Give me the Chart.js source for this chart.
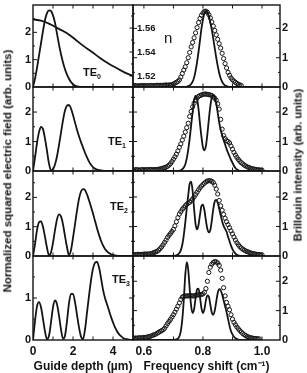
<!DOCTYPE html>
<html>
<head>
<meta charset="utf-8">
<title>Guided modes and Brillouin spectra</title>
<script src="https://cdn.jsdelivr.net/npm/chart.js@4.4.1/dist/chart.umd.min.js"></script>
<style>
  html, body { margin: 0; padding: 0; background: #fff; }
  #fig { position: relative; width: 307px; height: 373px; overflow: hidden;
         font-family: "Liberation Sans", Arial, sans-serif; font-weight: bold; color: #141414; }
  .pan { position: absolute; }
  .txt { position: absolute; white-space: nowrap; line-height: 1; z-index: 5; }
  .te { font-size: 11px; }
  .te sub { font-size: 7px; vertical-align: -3px; line-height: 0; }
  .vt { transform: translate(-50%, -50%) rotate(-90deg); }
</style>
</head>
<body>
<div id="fig">
  <div class="txt te" style="left:83px;top:67px">TE<sub>0</sub></div>
  <div class="txt te" style="left:108px;top:136px">TE<sub>1</sub></div>
  <div class="txt te" style="left:110px;top:201px">TE<sub>2</sub></div>
  <div class="txt te" style="left:112px;top:274px">TE<sub>3</sub></div>
  <div class="txt" style="left:164px;top:30px;font-size:15px;font-weight:normal">n</div>
  <div class="txt vt" style="left:7.5px;top:171px;font-size:11.5px">Normalized squared electric field (arb. units)</div>
  <div class="txt vt" style="left:298px;top:165px;font-size:11px">Brillouin intensity (arb. units)</div>
</div>
<script>
(function () {
  // ---- données ----
  var DEPTH = [0, 0.1, 0.2, 0.3, 0.4, 0.5, 0.6, 0.7, 0.8, 0.9,
    1, 1.1, 1.2, 1.3, 1.4, 1.5, 1.6, 1.7, 1.8, 1.9,
    2, 2.1, 2.2, 2.3, 2.4, 2.5, 2.6, 2.7, 2.8, 2.9,
    3, 3.1, 3.2, 3.3, 3.4, 3.5, 3.6, 3.7, 3.8, 3.9,
    4, 4.1, 4.2, 4.3, 4.4, 4.5, 4.6, 4.7, 4.8, 4.9, 5];

  var TE0 = [0, 0.3, 0.7, 1.15, 1.6, 2.05, 2.45, 2.7, 2.8, 2.78,
    2.62, 2.35, 1.95, 1.55, 1.2, 0.9, 0.65, 0.45, 0.3, 0.18,
    0.1, 0.05, 0.02, 0.01, 0, 0, 0, 0, 0, 0,
    0, 0, 0, 0, 0, 0, 0, 0, 0, 0,
    0, 0, 0, 0, 0, 0, 0, 0, 0, 0, 0];
  var TE1 = [0, 0.45, 0.95, 1.32, 1.5, 1.42, 1.1, 0.68, 0.25, 0.02,
    0.06, 0.22, 0.5, 0.88, 1.3, 1.72, 2.05, 2.22, 2.24, 2.12,
    1.9, 1.65, 1.4, 1.18, 0.98, 0.8, 0.62, 0.46, 0.32, 0.21,
    0.13, 0.08, 0.05, 0.03, 0.02, 0.01, 0, 0, 0, 0,
    0, 0, 0, 0, 0, 0, 0, 0, 0, 0, 0];
  var TE2 = [0, 0.4, 0.88, 1.15, 1.18, 1.0, 0.65, 0.28, 0.02, 0.12,
    0.45, 0.88, 1.25, 1.42, 1.35, 1.08, 0.68, 0.3, 0.03, 0.2,
    0.62, 1.08, 1.55, 1.95, 2.2, 2.28, 2.25, 2.1, 1.9, 1.68,
    1.45, 1.2, 0.95, 0.72, 0.52, 0.36, 0.24, 0.16, 0.1, 0.06,
    0.04, 0.02, 0.01, 0, 0, 0, 0, 0, 0, 0, 0];
  var TE3 = [0, 0.45, 0.8, 0.9, 0.78, 0.5, 0.2, 0.02, 0.1, 0.42,
    0.78, 0.94, 0.85, 0.58, 0.25, 0.03, 0.1, 0.45, 0.88, 1.1,
    1.1, 0.9, 0.6, 0.3, 0.08, 0.02, 0.25, 0.65, 1.05, 1.42,
    1.7, 1.84, 1.86, 1.73, 1.48, 1.2, 1.0, 0.85, 0.7, 0.55,
    0.42, 0.3, 0.21, 0.14, 0.09, 0.05, 0.03, 0.02, 0.01, 0, 0];

  // indice de réfraction (encart du premier panneau)
  var N_DEPTH = [0, 0.4, 0.85, 1.25, 1.7, 2.1, 2.5, 2.95, 3.35, 3.75, 4.2, 4.6, 5.0];
  var N_INDEX = [1.5672, 1.5661, 1.5633, 1.5597, 1.5556, 1.5506, 1.5453,
    1.5400, 1.5350, 1.5306, 1.5264, 1.5228, 1.5200];

  var FREQ = [0.56, 0.565, 0.57, 0.575, 0.58, 0.585, 0.59, 0.595, 0.6, 0.605,
    0.61, 0.615, 0.62, 0.625, 0.63, 0.635, 0.64, 0.645, 0.65, 0.655,
    0.66, 0.665, 0.67, 0.675, 0.68, 0.685, 0.69, 0.695, 0.7, 0.705,
    0.71, 0.715, 0.72, 0.725, 0.73, 0.735, 0.74, 0.745, 0.75, 0.755,
    0.76, 0.765, 0.77, 0.775, 0.78, 0.785, 0.79, 0.795, 0.8, 0.805,
    0.81, 0.815, 0.82, 0.825, 0.83, 0.835, 0.84, 0.845, 0.85, 0.855,
    0.86, 0.865, 0.87, 0.875, 0.88, 0.885, 0.89, 0.895, 0.9, 0.905,
    0.91, 0.915, 0.92, 0.925, 0.93, 0.935, 0.94, 0.945, 0.95, 0.955,
    0.96, 0.965, 0.97, 0.975, 0.98, 0.985, 0.99, 0.995, 1.0];

  // spectres mesurés (cercles) et calculés (trait)
  var EXP0 = [0.05, 0.04, 0.05, 0.04, 0.03, 0.05, 0.04, 0.05, 0.04, 0.05,
    0.04, 0.04, 0.05, 0.05, 0.04, 0.05, 0.05, 0.06, 0.05, 0.06,
    0.05, 0.06, 0.06, 0.07, 0.06, 0.07, 0.07, 0.08, 0.1, 0.13,
    0.16, 0.19, 0.24, 0.34, 0.46, 0.58, 0.69, 0.83, 1.0, 1.18,
    1.37, 1.52, 1.68, 1.85, 2.03, 2.2, 2.34, 2.45, 2.53, 2.58,
    2.59, 2.55, 2.47, 2.36, 2.22, 2.08, 1.93, 1.78, 1.63, 1.48,
    1.33, 1.15, 0.97, 0.8, 0.65, 0.5, 0.4, 0.31, 0.25, 0.2,
    0.16, 0.12, 0.09, 0.07, 0.05, null, null, null, null, null,
    null, null, null, null, null, null, null, null, null];
  var FIT0 = [0, 0, 0, 0, 0, 0, 0, 0, 0, 0,
    0, 0, 0, 0, 0, 0, 0, 0, 0, 0,
    0, 0, 0, 0, 0, 0, 0, 0, 0, 0,
    0, 0, 0, 0, 0, 0, 0, 0.01, 0.03, 0.05,
    0.1, 0.18, 0.32, 0.55, 0.85, 1.2, 1.6, 2.0, 2.3, 2.52,
    2.6, 2.55, 2.42, 2.2, 1.95, 1.65, 1.32, 1.0, 0.72, 0.48,
    0.3, 0.18, 0.1, 0.05, 0.03, 0.01, 0, 0, 0, 0,
    0, 0, 0, 0, 0, 0, 0, 0, 0, 0,
    0, 0, 0, 0, 0, 0, 0, 0, 0];

  var EXP1 = [0.04, 0.03, 0.04, 0.05, 0.04, 0.03, 0.04, 0.05, 0.04, 0.04,
    0.05, 0.04, 0.05, 0.05, 0.04, 0.05, 0.05, 0.05, 0.06, 0.07,
    0.08, 0.1, 0.11, 0.13, 0.16, 0.2, 0.25, 0.32, 0.4, 0.48,
    0.57, 0.68, 0.8, 0.92, 1.05, 1.18, 1.32, 1.47, 1.62, 1.85,
    2.02, 2.18, 2.3, 2.4, 2.48, 2.53, 2.56, 2.58, 2.6, 2.61,
    2.61, 2.6, 2.59, 2.58, 2.56, 2.52, 2.47, 2.4, 2.28, 2.1,
    1.75, 1.42, 1.2, 1.1, 1.03, 1.0, 0.95, 0.85, 0.74, 0.63,
    0.54, 0.46, 0.39, 0.33, 0.28, 0.24, 0.2, 0.17, 0.14, 0.12,
    0.1, 0.08, 0.07, 0.06, 0.05, 0.04, 0.04, 0.03, 0.03];
  var FIT1 = [0, 0, 0, 0, 0, 0, 0, 0, 0, 0,
    0, 0, 0, 0, 0, 0, 0, 0, 0, 0,
    0, 0, 0, 0, 0, 0, 0, 0, 0, 0,
    0, 0, 0.01, 0.02, 0.06, 0.12, 0.22, 0.42, 0.72, 1.1,
    1.55, 2.0, 2.4, 2.55, 2.45, 2.1, 1.6, 1.15, 0.8, 0.7,
    0.85, 1.25, 1.75, 2.2, 2.5, 2.58, 2.5, 2.3, 1.98, 1.65,
    1.4, 1.22, 1.05, 0.9, 0.75, 0.62, 0.5, 0.38, 0.28, 0.18,
    0.1, 0.05, 0.02, 0, 0, 0, 0, 0, 0, 0,
    0, 0, 0, 0, 0, 0, 0, 0, 0];

  var EXP2 = [0.04, 0.05, 0.04, 0.05, 0.06, 0.05, 0.05, 0.06, 0.06, 0.07,
    0.06, 0.07, 0.07, 0.08, 0.1, 0.12, 0.14, 0.16, 0.2, 0.25,
    0.31, 0.38, 0.46, 0.54, 0.63, 0.7, 0.76, 0.83, 0.9, 1.02,
    1.16, 1.3, 1.42, 1.5, 1.58, 1.64, 1.7, 1.75, 1.79, 1.82,
    1.87, 1.93, 2.0, 2.08, 2.16, 2.24, 2.31, 2.37, 2.42, 2.47,
    2.51, 2.54, 2.55, 2.55, 2.53, 2.49, 2.4, 2.27, 2.1, 1.88,
    1.7, 1.55, 1.41, 1.28, 1.16, 1.06, 0.96, 0.85, 0.75, 0.64,
    0.54, 0.45, 0.38, 0.32, 0.27, 0.23, 0.2, 0.17, 0.15, 0.13,
    0.11, 0.09, 0.08, 0.07, 0.06, 0.05, 0.05, 0.04, 0.04];
  var FIT2 = [0, 0, 0, 0, 0, 0, 0, 0, 0, 0,
    0, 0, 0, 0, 0, 0, 0, 0, 0, 0,
    0, 0, 0, 0, 0, 0, 0, 0, 0, 0.01,
    0.02, 0.05, 0.1, 0.2, 0.38, 0.7, 1.12, 1.6, 2.05, 2.45,
    2.52, 2.2, 1.6, 1.08, 0.9, 1.05, 1.4, 1.7, 1.74, 1.55,
    1.2, 0.92, 0.8, 0.88, 1.2, 1.6, 1.85, 1.9, 1.8, 1.6,
    1.38, 1.18, 1.02, 0.92, 0.82, 0.65, 0.5, 0.35, 0.23, 0.14,
    0.08, 0.04, 0.02, 0, 0, 0, 0, 0, 0, 0,
    0, 0, 0, 0, 0, 0, 0, 0, 0];

  var EXP3 = [0.06, 0.05, 0.07, 0.06, 0.07, 0.08, 0.07, 0.08, 0.09, 0.08,
    0.1, 0.11, 0.12, 0.14, 0.16, 0.18, 0.2, 0.23, 0.26, 0.29,
    0.32, 0.35, 0.4, 0.48, 0.56, 0.63, 0.7, 0.78, 0.86, 0.95,
    1.05, 1.15, 1.26, 1.38, 1.46, 1.49, 1.5, 1.5, 1.5, 1.51,
    1.51, 1.5, 1.5, 1.52, 1.53, 1.54, 1.54, 1.55, 1.57, 1.62,
    1.75, 2.0, 2.3, 2.48, 2.58, 2.64, 2.67, 2.66, 2.62, 2.54,
    2.38, 2.1, 1.78, 1.5, 1.28, 1.15, 1.03, 0.86, 0.71, 0.6,
    0.52, 0.44, 0.38, 0.32, 0.27, 0.22, 0.18, 0.15, 0.12, 0.1,
    0.08, 0.07, 0.06, 0.05, 0.05, 0.04, 0.04, null, null];
  var FIT3 = [0, 0, 0, 0, 0, 0, 0, 0, 0, 0,
    0, 0, 0, 0, 0, 0, 0, 0, 0, 0,
    0, 0, 0, 0, 0, 0, 0, 0, 0, 0.01,
    0.02, 0.05, 0.12, 0.3, 0.7, 1.35, 2.2, 2.65, 2.4, 1.75,
    1.15, 0.92, 1.05, 1.42, 1.72, 1.75, 1.45, 1.08, 0.92, 1.05,
    1.35, 1.52, 1.48, 1.2, 0.93, 0.86, 1.0, 1.3, 1.6, 1.73,
    1.7, 1.55, 1.35, 1.15, 0.95, 0.72, 0.48, 0.3, 0.19, 0.11,
    0.06, 0.03, 0.01, 0, 0, 0, 0, 0, 0, 0,
    0, 0, 0, 0, 0, 0, 0, 0, 0];

  // graduations
  var DEPTH_LABELS = [0, 2, 4];
  var FREQ_LABELS = [0.6, 0.8, 1.0];
  var Y_LABELS = [0, 1, 2];
  var N_LABELS = [1.52, 1.54, 1.56];
  var DEPTH_MARKS = [1, 2, 3, 4];
  var FREQ_MARKS = [0.6, 0.7, 0.8, 0.9, 1.0];
  var Y_MARKS = [0.5, 1, 1.5, 2, 2.5];
  var N_MARKS = [1.52, 1.53, 1.54, 1.55, 1.56, 1.57];

  var INK = "#141414";
  var FONT = '"Liberation Sans", Arial, sans-serif';
  var fig = document.getElementById("fig");
  var ROW_TOP = [5, 87, 171, 256];
  var ROW_BOT = [87, 171, 256, 340];
  var GAP = 6; // marge autour de la frontière commune x=133

  Chart.defaults.font.family = FONT;
  Chart.defaults.color = INK;

  // cadre + petites graduations vers l'intérieur (positions prises sur les échelles)
  var framePlugin = {
    id: "frame",
    afterDatasetsDraw: function (chart, args, o) {
      var a = chart.chartArea, ctx = chart.ctx;
      var sx = chart.scales.x, sy = chart.scales.y;
      ctx.save();
      ctx.strokeStyle = INK;
      ctx.lineWidth = 1.4;
      ctx.strokeRect(a.left, a.top, a.right - a.left, a.bottom - a.top);
      ctx.lineWidth = 1;
      ctx.beginPath();
      o.xMarks.forEach(function (v) {
        var p = sx.getPixelForValue(v);
        ctx.moveTo(p, a.bottom); ctx.lineTo(p, a.bottom - 3.5);
        ctx.moveTo(p, a.top); ctx.lineTo(p, a.top + 3.5);
      });
      Y_MARKS.forEach(function (v) {
        if (v >= sy.max - 0.05) { return; }
        var p = sy.getPixelForValue(v);
        var L = Number.isInteger(v) ? 4 : 2;
        ctx.moveTo(a.left, p); ctx.lineTo(a.left + L, p);
        if (!o.nAxis) { ctx.moveTo(a.right, p); ctx.lineTo(a.right - L, p); }
      });
      if (o.nAxis) {
        var sn = chart.scales.yn;
        N_MARKS.forEach(function (v) {
          var p = sn.getPixelForValue(v);
          var L = Math.round(v * 100) % 2 === 0 ? 3.5 : 2;
          ctx.moveTo(a.right, p); ctx.lineTo(a.right - L, p);
        });
      }
      ctx.stroke();
      ctx.restore();
    }
  };

  function lineSet(xs, ys, axis) {
    return {
      data: xs.map(function (x, i) { return { x: x, y: ys[i] }; }),
      yAxisID: axis || "y",
      showLine: true, borderColor: INK, borderWidth: 1.8,
      pointRadius: 0, cubicInterpolationMode: "monotone", fill: false
    };
  }

  function dotSet(xs, ys) {
    var pts = [];
    xs.forEach(function (x, i) { if (ys[i] != null) { pts.push({ x: x, y: ys[i] }); } });
    return {
      data: pts, showLine: false, borderColor: INK,
      pointRadius: 2.1, pointBorderWidth: 1, pointBorderColor: INK,
      pointBackgroundColor: "rgba(255,255,255,0)"
    };
  }

  function panel(o) {
    var padT = 10, padB = o.bottom ? 0 : 10;
    var top = ROW_TOP[o.row] - padT;
    var bot = o.bottom ? 373 : ROW_BOT[o.row] + padB;
    var wrap = document.createElement("div");
    wrap.className = "pan";
    wrap.style.left = o.left + "px";
    wrap.style.top = top + "px";
    wrap.style.width = o.width + "px";
    wrap.style.height = (bot - top) + "px";
    var canvas = document.createElement("canvas");
    wrap.appendChild(canvas);
    fig.appendChild(wrap);

    var scales = {
      x: {
        type: "linear", min: o.xMin, max: o.xMax, display: !!o.bottom,
        grid: { display: false, drawTicks: false }, border: { display: false },
        afterBuildTicks: function (s) { s.ticks = o.xLabels.map(function (v) { return { value: v }; }); },
        afterFit: function (s) { s.height = o.bottom ? 33 : 0; },
        ticks: { autoSkip: false, maxRotation: 0, padding: 4, color: INK,
                 font: { family: FONT, size: 12, weight: "bold" }, callback: o.xFmt },
        title: { display: true, text: o.xTitle, color: INK, padding: 0,
                 font: { family: FONT, size: 12, weight: "bold", lineHeight: 1 } }
      },
      y: {
        type: "linear", min: 0, max: o.yMax, position: o.side,
        grid: { display: false, drawTicks: false }, border: { display: false },
        afterBuildTicks: function (s) {
          s.ticks = Y_LABELS.filter(function (v) { return v < o.yMax - 0.2; })
            .map(function (v) { return { value: v }; });
        },
        afterFit: function (s) { s.width = o.yWidth; },
        ticks: { padding: 2, color: INK, font: { family: FONT, size: 11, weight: "bold" },
                 callback: function (v) { return String(v); } }
      }
    };
    if (o.nAxis) {
      scales.yn = {
        type: "linear", min: 1.5108, max: 1.5792, position: "right",
        grid: { display: false, drawTicks: false }, border: { display: false },
        afterBuildTicks: function (s) { s.ticks = N_LABELS.map(function (v) { return { value: v }; }); },
        afterFit: function (s) { s.width = 32; },
        ticks: { padding: 4, color: INK, font: { family: FONT, size: 9.5, weight: "bold" },
                 callback: function (v) { return v.toFixed(2); } }
      };
    }

    return new Chart(canvas, {
      type: "scatter",
      data: { datasets: o.datasets },
      plugins: [framePlugin],
      options: {
        responsive: true,
        maintainAspectRatio: false,
        animation: false,
        events: [],
        layout: { padding: { top: padT, bottom: padB, left: o.padL || 0, right: o.padR || 0 } },
        scales: scales,
        plugins: {
          legend: { display: false },
          tooltip: { enabled: false },
          frame: { xMarks: o.xMarks, nAxis: !!o.nAxis }
        }
      }
    });
  }

  var LEFT_MAX = [3.0, 2.85, 2.9, 2.0];
  var RIGHT_MAX = [2.8, 2.85, 2.88, 2.86];
  var MODES = [TE0, TE1, TE2, TE3];
  var EXPS = [EXP0, EXP1, EXP2, EXP3];
  var FITS = [FIT0, FIT1, FIT2, FIT3];

  MODES.forEach(function (mode, r) {
    var sets = [lineSet(DEPTH, mode)];
    if (r === 0) { sets.push(lineSet(N_DEPTH, N_INDEX, "yn")); }
    panel({
      row: r, bottom: r === 3, left: 0, width: r === 0 ? 165 : 133 + GAP,
      padR: r === 0 ? 0 : GAP,
      side: "left", yWidth: 33, yMax: LEFT_MAX[r], nAxis: r === 0,
      xMin: 0, xMax: 5, xLabels: DEPTH_LABELS, xMarks: DEPTH_MARKS,
      xFmt: function (v) { return String(v); },
      xTitle: "Guide depth (\u00B5m)",
      datasets: sets
    });
  });

  EXPS.forEach(function (exp, r) {
    panel({
      row: r, bottom: r === 3, left: 133 - GAP, width: 174 + GAP, padL: GAP,
      side: "right", yWidth: 27, yMax: RIGHT_MAX[r],
      xMin: 0.563, xMax: 1.061, xLabels: FREQ_LABELS, xMarks: FREQ_MARKS,
      xFmt: function (v) { return v.toFixed(1); },
      xTitle: "Frequency shift (cm\u207B\u00B9)",
      datasets: [lineSet(FREQ, FITS[r]), dotSet(FREQ, exp)]
    });
  });
})();
</script>
</body>
</html>
